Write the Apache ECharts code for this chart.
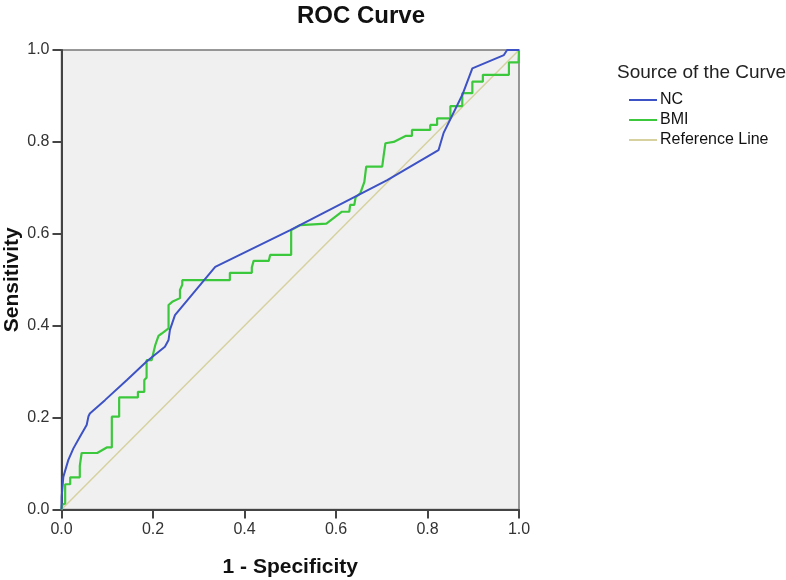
<!DOCTYPE html>
<html>
<head>
<meta charset="utf-8">
<script src="https://cdn.jsdelivr.net/npm/echarts@6/dist/echarts.min.js"></script>
<style>
  html, body { margin: 0; padding: 0; background: #fff; }
  #chart { width: 786px; height: 580px; }
</style>
</head>
<body>
<div id="chart"></div>
<script>
// [1 - specificity, sensitivity] pairs
const ncPoints = [
  [0, 0], [0.0004, 0.028], [0.004, 0.071], [0.015, 0.108], [0.026, 0.133],
  [0.040, 0.158], [0.055, 0.184], [0.059, 0.203], [0.062, 0.209], [0.095, 0.238],
  [0.143, 0.282], [0.186, 0.322], [0.226, 0.354], [0.234, 0.369], [0.237, 0.391],
  [0.248, 0.423], [0.336, 0.528], [0.500, 0.608], [0.712, 0.717], [0.824, 0.782],
  [0.835, 0.819], [0.876, 0.902], [0.898, 0.960], [0.967, 0.989], [0.974, 1.0],
  [1, 1]
];

const bmiPoints = [
  [0, 0], [0.001, 0.010], [0.008, 0.013], [0.008, 0.055], [0.019, 0.055],
  [0.019, 0.070], [0.040, 0.070], [0.040, 0.095], [0.044, 0.123], [0.078, 0.123],
  [0.099, 0.135], [0.110, 0.135], [0.110, 0.202], [0.126, 0.202], [0.126, 0.244],
  [0.167, 0.244], [0.167, 0.256], [0.181, 0.256], [0.181, 0.282], [0.186, 0.287],
  [0.186, 0.325], [0.197, 0.325], [0.205, 0.358], [0.212, 0.378], [0.219, 0.383],
  [0.234, 0.394], [0.234, 0.445], [0.242, 0.452], [0.259, 0.460], [0.259, 0.478],
  [0.264, 0.489], [0.264, 0.499], [0.368, 0.499], [0.368, 0.515], [0.416, 0.515],
  [0.416, 0.527], [0.420, 0.541], [0.453, 0.541], [0.456, 0.554], [0.502, 0.554],
  [0.502, 0.608], [0.522, 0.619], [0.579, 0.622], [0.613, 0.648], [0.629, 0.648],
  [0.631, 0.663], [0.640, 0.663], [0.643, 0.680], [0.653, 0.688], [0.662, 0.713],
  [0.666, 0.746], [0.701, 0.746], [0.704, 0.769], [0.708, 0.797], [0.726, 0.800],
  [0.752, 0.813], [0.766, 0.813], [0.766, 0.826], [0.806, 0.826], [0.806, 0.837],
  [0.821, 0.837], [0.821, 0.851], [0.850, 0.851], [0.850, 0.878], [0.876, 0.878],
  [0.876, 0.906], [0.898, 0.906], [0.898, 0.931], [0.921, 0.931], [0.921, 0.946],
  [0.978, 0.946], [0.978, 0.973], [0.999, 0.973], [1, 1]
];

const refPoints = [[0, 0], [1, 1]];

const seriesNames = ['NC', 'BMI', 'Reference Line'];
const seriesColors = ['#3d52c4', '#3cc83c', '#d6d19f'];

const FONT = '"Liberation Sans", Arial, sans-serif';

const chart = echarts.init(document.getElementById('chart'), null, { renderer: 'canvas' });

const axisCommon = {
    type: 'value',
    min: 0,
    max: 1,
    interval: 0.2,
    nameLocation: 'middle',
    nameMoveOverlap: false,
    nameTextStyle: { color: '#111', fontSize: 21, fontWeight: 'bold', fontFamily: FONT },
    axisLine: { show: true, lineStyle: { color: '#444', width: 2 } },
    axisTick: { show: true, length: 9, lineStyle: { color: '#444', width: 2 } },
    axisLabel: { color: '#333', fontSize: 16, fontFamily: FONT, margin: 12, formatter: v => v.toFixed(1) },
    splitLine: { show: false },
};

chart.setOption({
    animation: false,
    backgroundColor: '#fff',
    title: [
        {
            text: 'ROC Curve',
            left: 356,
            top: -1,
            textAlign: 'center',
            textStyle: { color: '#111', fontSize: 24, fontWeight: 'bold', fontFamily: FONT },
        },
        {
            text: 'Source of the Curve',
            left: 612,
            top: 58,
            textStyle: { color: '#222', fontSize: 19, fontWeight: 'normal', fontFamily: FONT },
        },
    ],
    legend: {
        data: seriesNames,
        orient: 'vertical',
        left: 624,
        top: 87,
        icon: 'rect',
        itemWidth: 28,
        itemHeight: 2,
        itemGap: 4,
        textStyle: { color: '#111', fontSize: 16, fontFamily: FONT, padding: [0, 0, 0, -2] },
    },
    grid: {
        left: 61.5,
        right: 267,
        top: 50,
        bottom: 70.5,
        outerBoundsMode: 'none',
        containLabel: false,
        show: true,
        backgroundColor: '#f0f0f0',
        borderColor: '#777',
        borderWidth: 1.5,
    },
    xAxis: { ...axisCommon, name: '1 - Specificity', nameGap: 47 },
    yAxis: { ...axisCommon, name: 'Sensitivity', nameGap: 39 },
    series: [
        {
            name: seriesNames[0], type: 'line', data: ncPoints, symbol: 'none',
            lineStyle: { width: 2, color: seriesColors[0] }, itemStyle: { color: seriesColors[0] }, z: 4,
        },
        {
            name: seriesNames[1], type: 'line', data: bmiPoints, symbol: 'none',
            lineStyle: { width: 2.2, color: seriesColors[1] }, itemStyle: { color: seriesColors[1] }, z: 3,
        },
        {
            name: seriesNames[2], type: 'line', data: refPoints, symbol: 'none',
            lineStyle: { width: 1.5, color: seriesColors[2] }, itemStyle: { color: seriesColors[2] }, z: 2,
        },
    ],
});
</script>
</body>
</html>
